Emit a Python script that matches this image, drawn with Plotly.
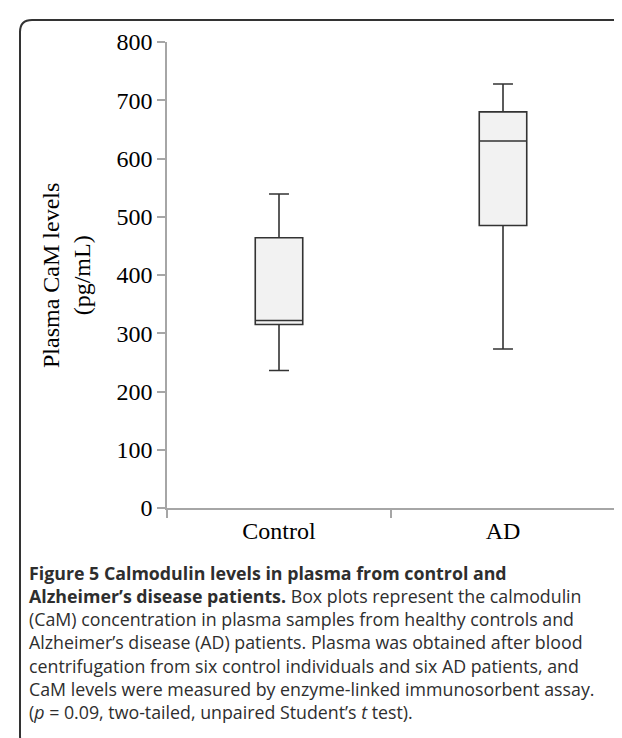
import plotly.graph_objects as go

# ---- data ----
categories = ["Control", "AD"]
lower_whisker = [236, 273]
q1_values = [315, 485]
median_values = [322, 630]
q3_values = [464, 680]
upper_whisker = [539, 728]
y_ticks = [0, 100, 200, 300, 400, 500, 600, 700, 800]

caption_lines = [
    "<b>Figure 5 Calmodulin levels in plasma from control and</b>",
    "<b>Alzheimer’s disease patients.</b> Box plots represent the calmodulin",
    "(CaM) concentration in plasma samples from healthy controls and",
    "Alzheimer’s disease (AD) patients. Plasma was obtained after blood",
    "centrifugation from six control individuals and six AD patients, and",
    "CaM levels were measured by enzyme-linked immunosorbent assay.",
    "(<i>p</i> = 0.09, two-tailed, unpaired Student’s <i>t</i> test).",
]

W, H = 622, 738
L, R, T, B = 159, 15, 34, 238
PW, PH = W - L - R, H - T - B


def px2x(px):
    return (px - L) / PW


def py2y(py):
    return (H - B - py) / PH


fig = go.Figure()
fig.add_trace(go.Box(
    x=categories,
    q1=q1_values,
    median=median_values,
    q3=q3_values,
    lowerfence=lower_whisker,
    upperfence=upper_whisker,
    fillcolor="#f2f2f2",
    line=dict(color="#333333", width=1.6),
    width=0.212,
    whiskerwidth=0.42,
    boxpoints=False,
    showlegend=False,
    hoverinfo="skip",
))

axis_font = dict(family="Liberation Serif, Times New Roman, serif", size=24, color="black")

fig.update_layout(
    width=W, height=H,
    margin=dict(l=L, r=R, t=T, b=B),
    paper_bgcolor="white",
    plot_bgcolor="white",
    xaxis=dict(
        type="category",
        range=[-0.5, 1.5],
        showline=True, linecolor="#a6a6a6", linewidth=1.5,
        ticks="outside", tickson="boundaries", ticklen=8, tickcolor="#a6a6a6", tickwidth=1.5,
        showgrid=False, zeroline=False,
        tickfont=axis_font,
    ),
    yaxis=dict(
        range=[0, 800],
        tickvals=y_ticks,
        showline=True, linecolor="#a6a6a6", linewidth=1.5,
        ticks="outside", ticklen=8, tickcolor="#a6a6a6", tickwidth=1.5,
        showgrid=False, zeroline=False,
        tickfont=axis_font,
    ),
)

annotations = [
    dict(
        text="Plasma CaM levels<br>(pg/mL)",
        textangle=-90,
        x=px2x(58), y=py2y(268),
        xref="paper", yref="paper",
        xanchor="center", yanchor="middle",
        showarrow=False,
        font=axis_font,
    ),
    dict(
        text="<br>".join(caption_lines),
        align="left",
        x=px2x(19), y=py2y(634),
        xref="paper", yref="paper",
        xanchor="left", yanchor="middle",
        showarrow=False,
        font=dict(family="Open Sans, Noto Sans, sans-serif", size=17.8, color="#2e2e2e"),
    ),
]
fig.update_layout(annotations=annotations)

# rounded frame around the figure
r = 12
path = (f"M {px2x(630)},{py2y(12)} L {px2x(12 + r)},{py2y(12)} "
        f"Q {px2x(12)},{py2y(12)} {px2x(12)},{py2y(12 + r)} "
        f"L {px2x(12)},{py2y(729)} Q {px2x(12)},{py2y(737)} {px2x(20)},{py2y(739)}")
fig.add_shape(type="path", path=path, xref="paper", yref="paper",
              line=dict(color="#333333", width=2))

fig.write_html("out.html")
